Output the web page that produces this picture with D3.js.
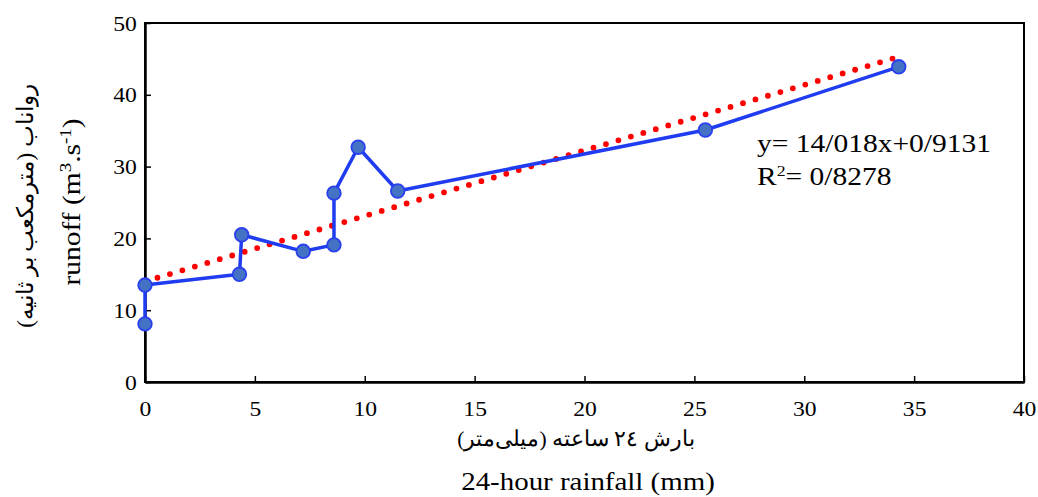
<!DOCTYPE html>
<html><head><meta charset="utf-8">
<script src="https://cdn.jsdelivr.net/npm/d3@7"></script>
<style>body{margin:0;background:#fff}svg{display:block}text{font-family:"Liberation Serif","Times New Roman",serif;fill:#000}</style>
</head><body>
<svg id="c" width="1038" height="497"></svg>
<script>
const rainfall = [0, 0, 4.3, 4.4, 7.2, 8.6, 8.6, 9.7, 11.5, 25.5, 34.3];
const runoff   = [8.1, 13.5, 15.0, 20.5, 18.2, 19.1, 26.3, 32.7, 26.6, 35.1, 43.9];
const trendX = [0, 34.3];
const trendY = [14.0, 45.3];
const xTicks = [0, 5, 10, 15, 20, 25, 30, 35, 40];
const yTicks = [0, 10, 20, 30, 40, 50];
const eqLines = ["y= 14/018x+0/9131"];
const yTitleEn = "runoff (m";
const yTitleFa = "رواناب (مترمکعب بر ثانیه)";
const xTitleFa = "بارش ۲٤ ساعته (میلی‌متر)";
const xTitleEn = "24-hour rainfall (mm)";

const SX = 1.18; // horizontal widening of the serif glyphs seen in the reference
const svg = d3.select("#c");
const L = 145, R = 1024, T = 23, B = 382;
const x = d3.scaleLinear().domain([0, 40]).range([L, R]);
const y = d3.scaleLinear().domain([0, 50]).range([B, T]);

// frame
svg.append("rect").attr("x", L).attr("y", T).attr("width", R - L).attr("height", B - T)
  .attr("fill", "none").attr("stroke", "#000").attr("stroke-width", 2);

const xa = svg.append("g").attr("transform", `translate(0,${B})`)
  .call(d3.axisBottom(x).tickValues(xTicks).tickSizeInner(-6).tickSizeOuter(0).tickPadding(20));
const ya = svg.append("g").attr("transform", `translate(${L},0)`)
  .call(d3.axisLeft(y).tickValues(yTicks).tickSizeInner(-6).tickSizeOuter(0).tickPadding(7));
[xa, ya].forEach(a => {
  a.select(".domain").attr("stroke", "#000").attr("stroke-width", 2.5);
  a.selectAll(".tick line").attr("stroke", "#000").attr("stroke-width", 1.5);
  a.selectAll(".tick text").style("font-family", "Liberation Serif").style("font-size", "20px")
    .attr("fill", "#000").attr("transform", `scale(${SX},1)`);
});
ya.selectAll(".tick text").attr("dy", "0.35em");

// trend line
const tdata = trendX.map((d, i) => [d, trendY[i]]);
svg.append("path").datum(tdata)
  .attr("d", d3.line().x(d => x(d[0])).y(d => y(d[1])))
  .attr("fill", "none").attr("stroke", "#ff0000").attr("stroke-width", 5.8)
  .attr("stroke-linecap", "round").attr("stroke-dasharray", "0 13");

// data line
const data = rainfall.map((d, i) => [d, runoff[i]]);
svg.append("path").datum(data)
  .attr("d", d3.line().x(d => x(d[0])).y(d => y(d[1])))
  .attr("fill", "none").attr("stroke", "#1f3cf0").attr("stroke-width", 3.5).attr("stroke-linejoin", "round");
svg.selectAll("circle.pt").data(data).join("circle").attr("class", "pt")
  .attr("cx", d => x(d[0])).attr("cy", d => y(d[1])).attr("r", 6.8)
  .attr("fill", "#4472c4").attr("stroke", "#2a40ee").attr("stroke-width", 1.8);

// equation
svg.append("text").attr("transform", `translate(757,152) scale(${SX},1)`).style("font-size", "25px").text(eqLines[0]);
const r2 = svg.append("text").attr("transform", `translate(757,185) scale(${SX},1)`).style("font-size", "25px");
r2.append("tspan").text("R");
r2.append("tspan").attr("dy", -9).style("font-size", "15px").text("2");
r2.append("tspan").attr("dy", 9).text("= 0/8278");

// y titles
const yt = svg.append("text").attr("transform", `translate(80,202) rotate(-90) scale(${SX},1)`)
  .attr("text-anchor", "middle").style("font-size", "25px");
yt.append("tspan").text(yTitleEn);
yt.append("tspan").attr("dy", -9).style("font-size", "16px").text("3");
yt.append("tspan").attr("dy", 9).text(".s");
yt.append("tspan").attr("dy", -9).style("font-size", "16px").text("-1");
yt.append("tspan").attr("dy", 9).text(")");

svg.append("text").attr("transform", "translate(33,206) rotate(-90)")
  .attr("text-anchor", "middle").attr("direction", "rtl").style("font-size", "23px").text(yTitleFa);

svg.append("text").attr("x", 576).attr("y", 446).attr("text-anchor", "middle").attr("direction", "rtl")
  .style("font-size", "21.5px").text(xTitleFa);
svg.append("text").attr("transform", `translate(588,490) scale(${SX},1)`).attr("text-anchor", "middle")
  .style("font-size", "24.5px").text(xTitleEn);
</script>
</body></html>
